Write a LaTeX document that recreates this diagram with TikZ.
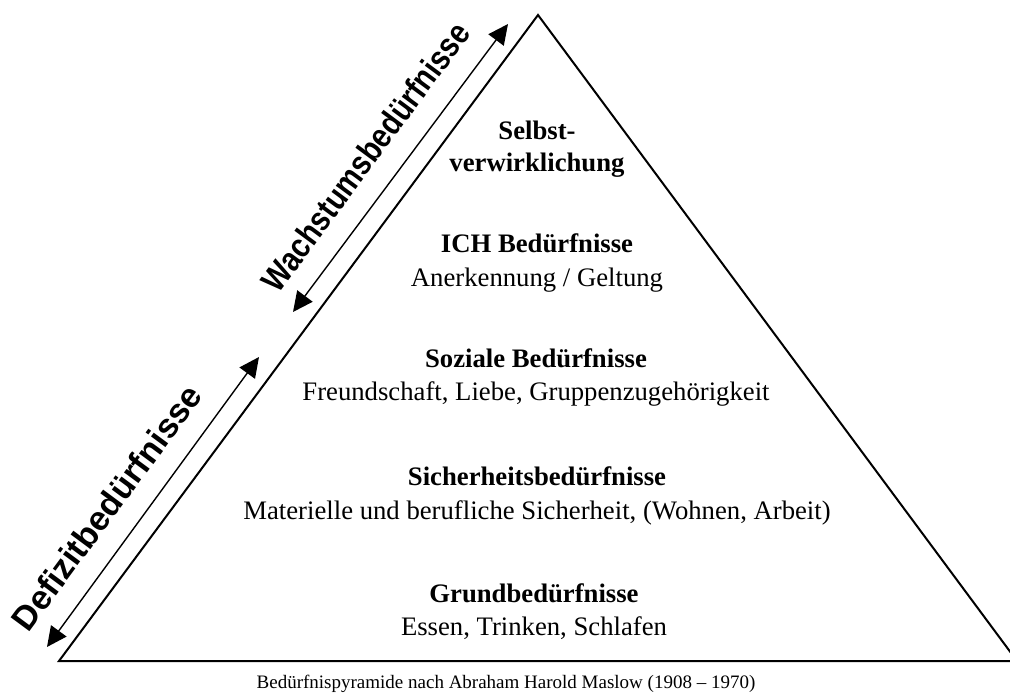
\documentclass[tikz,border=0pt]{standalone}
\usepackage{fontspec}
\setmainfont{Liberation Serif}
\newfontfamily\sidefont{Liberation Sans}
\newfontfamily\sidenarrow{Liberation Sans}[FakeStretch=0.85]
\usetikzlibrary{arrows.meta}

\begin{document}
\begin{tikzpicture}[x=1pt, y=-1pt, thick]
        \tikzstyle{every node}=[inner sep=0pt, anchor=base]
        \tikzstyle{title}=[font=\fontsize{26.7}{33}\selectfont\bfseries]
        \tikzstyle{detail}=[font=\fontsize{26.7}{33}\selectfont]
        \tikzstyle{side}=[anchor=base west, rotate=53.5]
        \tikzstyle{span}=[{Triangle[length=20pt,width=19pt]}-{Triangle[length=20pt,width=19pt]}, line width=1.4pt]
        \tikzstyle{pyramid}=[line width=2pt, line join=miter]
        \useasboundingbox (0, 0) rectangle (1010, 695);
        \clip (0, 0) rectangle (1010, 695);
        % pyramid
        \coordinate (top) at (538, 15);
        \coordinate (bl) at (59, 661);
        \coordinate (br) at (1017, 661);
        \draw[pyramid] (top) -- (bl) -- (br) -- cycle;
        % levels
        \node [title] (selbstA) at (537, 140) {Selbst-};
        \node [title] (selbstB) at (537, 172) {verwirklichung};
        \node [title] (ich) at (537, 253) {ICH Bedürfnisse};
        \node [detail] (ichtext) at (537, 287) {Anerkennung / Geltung};
        \node [title] (sozial) at (536, 367) {Soziale Bedürfnisse};
        \node [detail] (sozialtext) at (536, 400) {Freundschaft, Liebe, Gruppenzugehörigkeit};
        \node [title] (sicher) at (537, 485) {Sicherheitsbedürfnisse};
        \node [detail] (sichertext) at (537, 519) {Materielle und berufliche Sicherheit, (Wohnen, Arbeit)};
        \node [title] (grund) at (534, 602) {Grundbedürfnisse};
        \node [detail] (grundtext) at (534, 635) {Essen, Trinken, Schlafen};
        \node [font=\fontsize{19}{23}\selectfont] (caption) at (506, 688) {Bedürfnispyramide nach Abraham Harold Maslow (1908 -- 1970)};
        % growth and deficit ranges
        \coordinate (wlow) at (293, 312);
        \coordinate (whigh) at (508, 24);
        \coordinate (dlow) at (47, 647);
        \coordinate (dhigh) at (259, 357);
        \draw[span] (wlow) -- (whigh);
        \draw[span] (dlow) -- (dhigh);
        \node [side, font=\sidenarrow\bfseries\fontsize{34}{34}\selectfont] (wachstum) at (278.4, 294.8) {Wachstumsbedürfnisse};
        \node [side, font=\sidefont\bfseries\fontsize{34}{34}\selectfont] (defizit) at (28.4, 633.4) {Defizitbedürfnisse};
      \end{tikzpicture}
\end{document}
